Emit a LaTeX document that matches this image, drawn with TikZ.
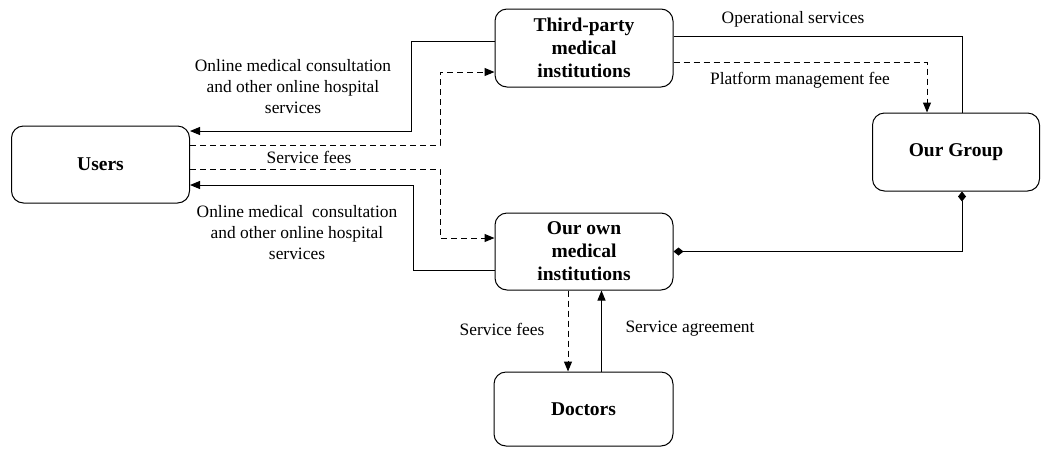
\documentclass[tikz,border=0pt]{standalone}
\usepackage{fontspec}
\setmainfont{Liberation Serif}
\usetikzlibrary{arrows.meta}
\tikzset{
  box/.style={draw, rounded corners=12pt, line width=1pt, align=center,
    inner sep=0pt, font=\fontsize{19.5}{23}\selectfont\bfseries},
  lbl/.style={align=center, inner sep=0pt, font=\fontsize{17.4}{21}\selectfont},
  conn/.style={line width=1pt},
  dsh/.style={conn, dash pattern=on 6pt off 4pt},
  tip/.style={-{Triangle[length=10pt,width=8pt]}},
  dia/.style={{Diamond[length=10pt,width=8pt]}-{Diamond[length=10pt,width=8pt]}}
}
\begin{document}
\begin{tikzpicture}[x=1pt,y=-1pt]
\useasboundingbox (0,0) rectangle (1042,448);

% boxes
\node[box, minimum width=178pt, minimum height=77pt] (users) at (100.5,164.5) {Users};
\node[box, minimum width=178pt, minimum height=78pt] (third) at (584,48) {Third-party\\medical\\institutions};
\node[box, minimum width=178pt, minimum height=77pt] (own) at (584,251.5) {Our own\\medical\\institutions};
\node[box, minimum width=179pt, minimum height=74pt] (doctors) at (583.5,409) {Doctors};
\node[box, minimum width=167pt, minimum height=78pt] (group) at (956,152) {Our Group};

% users <-> third-party institutions
\draw[conn, tip] ([yshift=7pt]third.west) -| (411,131) -- ([yshift=33.5pt]users.east);
\draw[dsh, tip] ([yshift=19.5pt]users.east) -| (440,72) -- ([yshift=-24pt]third.west);

% users <-> own institutions
\draw[dsh, tip] ([yshift=-4.5pt]users.east) -| (440,238) -- ([yshift=13.5pt]own.west);
\draw[conn, tip] ([yshift=-18.5pt]own.west) -| (413,185) -- ([yshift=-20.5pt]users.east);

% third-party institutions <-> group
\draw[conn] ([yshift=12pt]third.east) -| ([xshift=6pt]group.north);
\draw[dsh, tip] ([yshift=-14pt]third.east) -| ([xshift=-29pt]group.north);

% group -- own institutions
\draw[conn, dia] ([xshift=6pt]group.south) |- (own.east);

% own institutions <-> doctors
\coordinate (fd) at ([xshift=-16pt]own.south);
\coordinate (fa) at ([xshift=18pt]doctors.north);
\draw[dsh, tip] (fd) -- (fd |- doctors.north);
\draw[conn, tip] (fa) -- (fa |- own.south);

% labels
\node[lbl] (l1) at (293,87) {Online medical consultation\\and other online hospital\\services};
\node[lbl] (l2) at (297,233) {Online medical\ \ consultation\\and other online hospital\\services};
\node[lbl] (l3) at (309,157) {Service fees};
\node[lbl] (l4) at (793,19) {Operational services};
\node[lbl] (l5) at (800,80) {Platform management fee};
\node[lbl] (l6) at (502,329) {Service fees};
\node[lbl] (l7) at (690,329) {Service agreement};
\end{tikzpicture}
\end{document}
